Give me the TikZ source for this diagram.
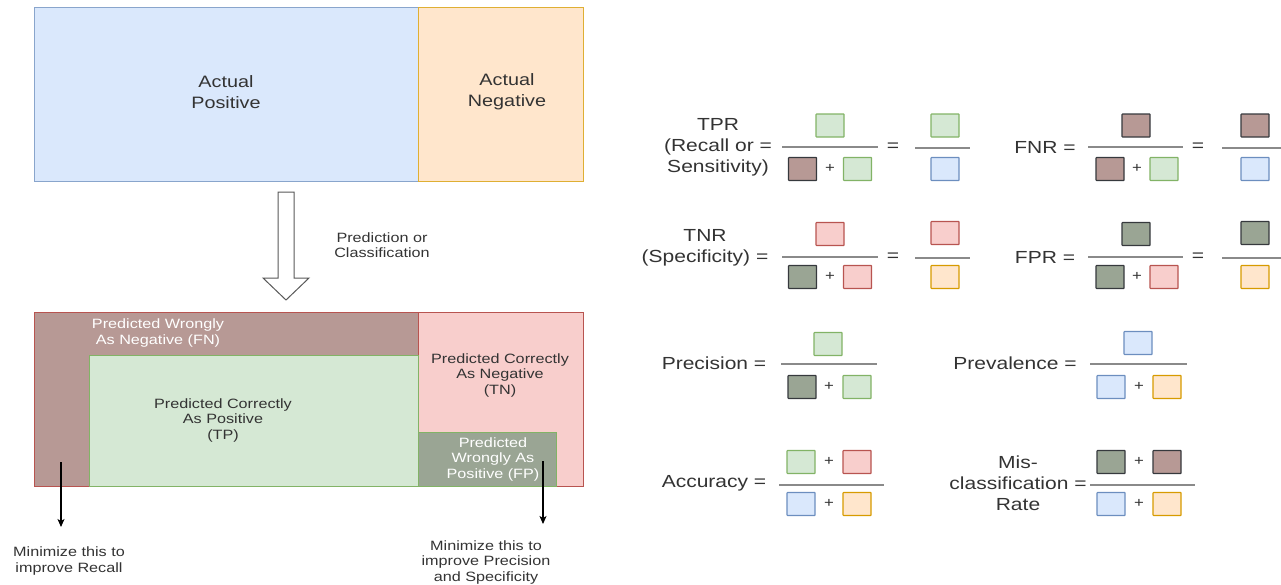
\documentclass[tikz,border=0pt]{standalone}
\usepackage{fontspec}
\setmainfont{Liberation Sans}[FakeStretch=1.2]
\usetikzlibrary{arrows.meta}

% cell colours (fill / stroke)
\definecolor{apF}{HTML}{DAE8FC}\definecolor{apD}{HTML}{6C8EBF}
\definecolor{anF}{HTML}{FFE6CC}\definecolor{anD}{HTML}{D79B00}
\definecolor{tpF}{HTML}{D5E8D4}\definecolor{tpD}{HTML}{82B366}
\definecolor{tnF}{HTML}{F8CECC}\definecolor{tnD}{HTML}{B85450}
\definecolor{fnF}{HTML}{B79995}
\definecolor{fpF}{HTML}{9AA594}
\definecolor{darkD}{HTML}{36393D}
\definecolor{txt}{HTML}{333333}
\definecolor{barc}{HTML}{8A8A8A}

\newcommand\fsz[2]{\fontsize{#1}{#2}\selectfont}
% a coloured square standing for one cell of the confusion matrix
\newcommand\cell[4]{\node[sqr,#1] (#2) at (#3,#4) {};}
\newcommand\plusat[3]{\node[plusnode] (#1) at (#2,#3) {+};}
% a fraction bar between two named end points
\newcommand\fracbar[4]{\path (#2,#4) coordinate (#1-l) (#3,#4) coordinate (#1-r);
  \draw[bar] (#1-l) -- (#1-r);}

\begin{document}
\begin{tikzpicture}[x=1pt,y=-1pt,
  region/.style={line width=0.9pt},
  lbl/.style={align=center, inner sep=0pt, text=txt, font=\fsz{17.5}{21}},
  big/.style={align=center, inner sep=0pt, text=txt, font=\fsz{16.5}{21}},
  small/.style={align=center, inner sep=0pt, text=txt, font=\fsz{13.5}{15.5}},
  sqr/.style={draw, line width=1.2pt, minimum width=28pt, minimum height=23pt, inner sep=0pt, rounded corners=0.6pt},
  cTP/.style={fill=tpF, draw=tpD},
  cTN/.style={fill=tnF, draw=tnD},
  cAP/.style={fill=apF, draw=apD},
  cAN/.style={fill=anF, draw=anD},
  cFN/.style={fill=fnF, draw=darkD},
  cFP/.style={fill=fpF, draw=darkD},
  plusnode/.style={inner sep=0pt, text=txt, font=\fsz{14}{16}},
  bar/.style={draw=barc, line width=1.6pt},
  ptr/.style={draw=black, line width=1.1pt, -{Stealth[length=8pt,width=7pt,inset=2pt]}},
]
\useasboundingbox (0,0) rectangle (1281,584);

% ---------- actual classes ----------
\draw[region, fill=apF, draw=apD!80] (34,7) rectangle (418,181);
\draw[region, fill=anF, draw=anD!80] (418,7) rectangle (583,181);
\node[big] (apText) at (226,92) {Actual\\Positive};
\node[big] (anText) at (507,92) {Actual\\Negative};

% ---------- hollow arrow: prediction step ----------
\draw[line width=1pt, draw=black!65, fill=white]
  (278,192) -- (294,192) -- (294,278) -- (309,278) -- (286,300)
  -- (263,278) -- (278,278) -- cycle;
\node[small] (predText) at (382,245) {Prediction or\\Classification};

% ---------- predicted classes ----------
\draw[region, fill=tnF, draw=tnD] (34,312) rectangle (583,486);
\draw[region, fill=fnF, draw=tnD] (34,312) rectangle (418,486);
\draw[region, fill=tpF, draw=tpD] (89,355) rectangle (418,486);
\draw[region, fill=fpF, draw=tpD] (418,432) rectangle (556,486);

\node[small, text=white] (fnText) at (158,333) {Predicted Wrongly\\As Negative (FN)};
\node[small] (tnText) at (500,375) {Predicted Correctly\\As Negative\\(TN)};
\node[small] (tpText) at (223,420) {Predicted Correctly\\As Positive\\(TP)};
\node[small, text=white] (fpText) at (493,459) {Predicted\\Wrongly As\\Positive (FP)};

% ---------- notes ----------
\coordinate (fnTail) at (61,462);
\coordinate (fnHead) at (61,527);
\draw[ptr] (fnTail) -- (fnHead);
\node[small] (recallNote) at (69,561) {Minimize this to\\improve Recall};

\coordinate (fpTail) at (543,461);
\coordinate (fpHead) at (543,524);
\draw[ptr] (fpTail) -- (fpHead);
\node[small] (precNote) at (486,562) {Minimize this to\\improve Precision\\and Specificity};

% ---------- TPR ----------
\node[lbl] (tprLbl) at (718,147) {TPR\\(Recall or =\\Sensitivity)};
\fracbar{tprA}{782}{878}{147}
\cell{cTP}{tprA-n}{830}{125.5}
\cell{cFN}{tprA-d1}{802.5}{169}
\plusat{tprA-p}{830}{168}
\cell{cTP}{tprA-d2}{857.5}{169}
\node[lbl] (tprEq) at (893,147) {=};
\fracbar{tprB}{915}{970}{148}
\cell{cTP}{tprB-n}{945}{125.5}
\cell{cAP}{tprB-d}{945}{169}

% ---------- FNR ----------
\node[lbl] (fnrLbl) at (1045,147) {FNR =};
\fracbar{fnrA}{1088}{1183}{147}
\cell{cFN}{fnrA-n}{1136}{125.5}
\cell{cFN}{fnrA-d1}{1110}{169}
\plusat{fnrA-p}{1137}{168}
\cell{cTP}{fnrA-d2}{1164}{169}
\node[lbl] (fnrEq) at (1198,147) {=};
\fracbar{fnrB}{1222}{1281}{148}
\cell{cFN}{fnrB-n}{1255}{125.5}
\cell{cAP}{fnrB-d}{1255}{169}

% ---------- TNR ----------
\node[lbl] (tnrLbl) at (705,248) {TNR\\(Specificity) =};
\fracbar{tnrA}{782}{878}{257}
\cell{cTN}{tnrA-n}{830}{234}
\cell{cFP}{tnrA-d1}{802.5}{277}
\plusat{tnrA-p}{830}{276}
\cell{cTN}{tnrA-d2}{857.5}{277}
\node[lbl] (tnrEq) at (893,257) {=};
\fracbar{tnrB}{915}{970}{258}
\cell{cTN}{tnrB-n}{945}{233}
\cell{cAN}{tnrB-d}{945}{277}

% ---------- FPR ----------
\node[lbl] (fprLbl) at (1045,257) {FPR =};
\fracbar{fprA}{1088}{1183}{257}
\cell{cFP}{fprA-n}{1136}{234}
\cell{cFP}{fprA-d1}{1110}{277}
\plusat{fprA-p}{1137}{276}
\cell{cTN}{fprA-d2}{1164}{277}
\node[lbl] (fprEq) at (1198,257) {=};
\fracbar{fprB}{1222}{1281}{258}
\cell{cFP}{fprB-n}{1255}{233}
\cell{cAN}{fprB-d}{1255}{277}

% ---------- Precision ----------
\node[lbl] (precLbl) at (714,363) {Precision =};
\fracbar{prec}{781}{877}{364}
\cell{cTP}{prec-n}{828}{344}
\cell{cFP}{prec-d1}{802}{387}
\plusat{prec-p}{829}{386}
\cell{cTP}{prec-d2}{857}{387}

% ---------- Prevalence ----------
\node[lbl] (prevLbl) at (1015,363) {Prevalence =};
\fracbar{prev}{1090}{1187}{364}
\cell{cAP}{prev-n}{1138}{343}
\cell{cAP}{prev-d1}{1111}{387}
\plusat{prev-p}{1139}{386}
\cell{cAN}{prev-d2}{1167}{387}

% ---------- Accuracy ----------
\node[lbl] (accLbl) at (714,483) {Accuracy =};
\fracbar{acc}{779}{884}{485}
\cell{cTP}{acc-n1}{801}{462}
\plusat{acc-np}{829}{461}
\cell{cTN}{acc-n2}{857}{462}
\cell{cAP}{acc-d1}{801}{504}
\plusat{acc-dp}{829}{503}
\cell{cAN}{acc-d2}{857}{504}

% ---------- Misclassification rate ----------
\node[lbl] (misLbl) at (1018,483) {Mis-\\classification =\\Rate};
\fracbar{mis}{1090}{1195}{485}
\cell{cFP}{mis-n1}{1111}{462}
\plusat{mis-np}{1139}{461}
\cell{cFN}{mis-n2}{1167}{462}
\cell{cAP}{mis-d1}{1111}{504}
\plusat{mis-dp}{1139}{503}
\cell{cAN}{mis-d2}{1167}{504}
\end{tikzpicture}
\end{document}
